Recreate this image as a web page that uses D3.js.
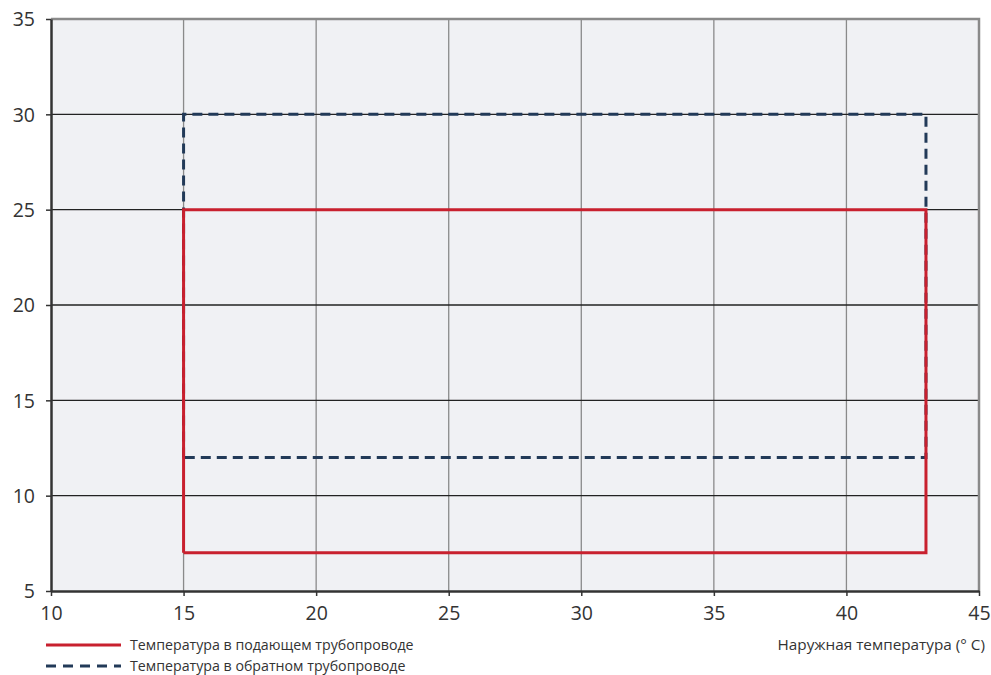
<!DOCTYPE html>
<html><head><meta charset="utf-8">
<script src="https://cdn.jsdelivr.net/npm/d3@7"></script>
<style>body{margin:0;background:#fff;font-family:"Open Sans","Noto Sans",sans-serif;}</style>
</head><body><svg id="c" width="991" height="675"></svg>
<script>
const xTicks = [10,15,20,25,30,35,40,45];
const yTicks = [5,10,15,20,25,30,35];
const supplyX = [15,15,43,43,15];
const supplyY = [7,25,25,7,7];
const returnX = [15,15,43,43,15];
const returnY = [12,30,30,12,12];
const legendLabels = ["Температура в подающем трубопроводе","Температура в обратном трубопроводе"];
const xTitle = "Наружная температура (° С)";

const svg = d3.select("#c");
const L=51,R=979,T=19,B=591;
const x = d3.scaleLinear().domain([10,45]).range([L,R]);
const y = d3.scaleLinear().domain([5,35]).range([B,T]);

svg.append("rect").attr("x",L).attr("y",T).attr("width",R-L).attr("height",B-T).attr("fill","#f0f1f4");
svg.append("g").selectAll("line").data(xTicks.slice(1,-1)).join("line")
  .attr("x1",d=>x(d)).attr("x2",d=>x(d)).attr("y1",T).attr("y2",B)
  .attr("stroke","#8a8a8a").attr("stroke-width",1.3);
svg.append("g").selectAll("line").data(yTicks.slice(1,-1)).join("line")
  .attr("x1",L).attr("x2",R).attr("y1",d=>y(d)).attr("y2",d=>y(d))
  .attr("stroke","#222").attr("stroke-width",1.3);
svg.append("path").attr("d",`M${L},${T}H${R}V${B}`).attr("fill","none").attr("stroke","#8a8a8a").attr("stroke-width",2.5);

const line = d3.line().x(d=>x(d[0])).y(d=>y(d[1]));
svg.append("path").datum(returnX.map((v,i)=>[v,returnY[i]])).attr("d",line)
  .attr("fill","none").attr("stroke","#223a58").attr("stroke-width",3).attr("stroke-dasharray","10,6");
svg.append("path").datum(supplyX.map((v,i)=>[v,supplyY[i]])).attr("d",line)
  .attr("fill","none").attr("stroke","#c8202e").attr("stroke-width",3);

const ax = svg.append("g").attr("transform",`translate(0,${B})`).call(d3.axisBottom(x).tickValues(xTicks).tickSize(5).tickSizeOuter(0));
const ay = svg.append("g").attr("transform",`translate(${L},0)`).call(d3.axisLeft(y).tickValues(yTicks).tickSize(5).tickSizeOuter(0));
[ax,ay].forEach(a=>{
  a.select(".domain").attr("stroke","#333").attr("stroke-width",2.5);
  a.selectAll(".tick line").attr("stroke","#333").attr("stroke-width",1.5);
  a.selectAll("text").attr("font-family","'Open Sans',sans-serif").attr("font-size",19.5).attr("fill","#333");
});
ax.selectAll("text").attr("y",10).attr("dy","0.95em");
ay.selectAll("text").attr("x",-16).attr("dy","0.35em");

svg.append("text").attr("x",985).attr("y",650).attr("text-anchor","end")
  .attr("font-size",15.3).attr("fill","#333").text(xTitle);

const leg = svg.append("g");
legendLabels.forEach((t,i)=>{
  const yy = 645 + i*21;
  leg.append("line").attr("x1",46).attr("x2",121).attr("y1",yy).attr("y2",yy)
    .attr("stroke",i?"#223a58":"#c8202e").attr("stroke-width",3).attr("stroke-dasharray",i?"10,7":null);
  leg.append("text").attr("x",130).attr("y",yy+5).attr("font-size",14.2).attr("fill","#333").text(t);
});
</script></body></html>
